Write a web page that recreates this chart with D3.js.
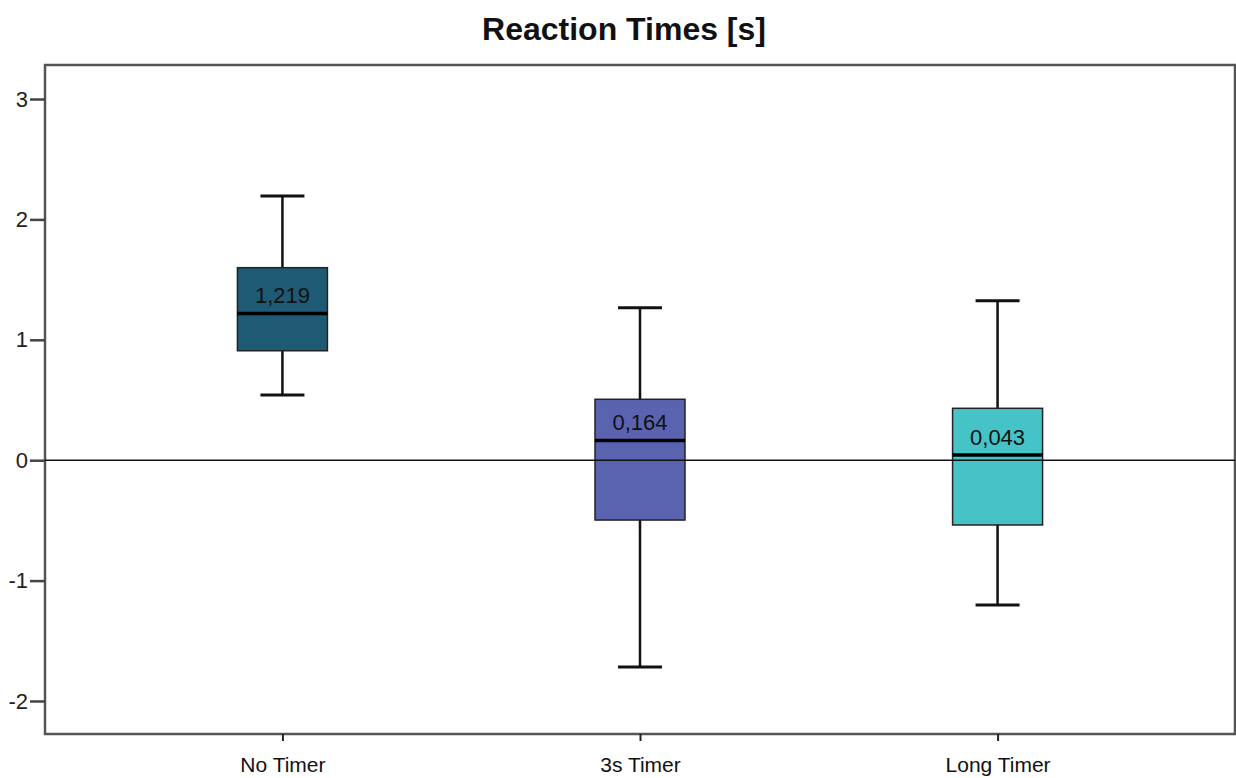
<!DOCTYPE html>
<html>
<head>
<meta charset="utf-8">
<script src="https://cdn.jsdelivr.net/npm/d3@7"></script>
<style>
  body { margin: 0; background: #fff; }
  svg { font-family: "Liberation Sans", Arial, sans-serif; }
</style>
</head>
<body>
<div id="canvas"></div>
<script>
// daten
let groups = ['No Timer', '3s Timer', 'Long Timer']
let whiskerLow = [0.541, -1.718, -1.203]
let q1 = [0.909, -0.497, -0.538]
let median = [1.219, 0.164, 0.043]
let q3 = [1.599, 0.506, 0.431]
let whiskerHigh = [2.194, 1.267, 1.325]
let medianLabels = ['1,219', '0,164', '0,043']
let colors = ['#1f5a74', '#5a63b0', '#46c3c6']
let yTicks = [-2, -1, 0, 1, 2, 3]

let width = 1236, height = 778
let plotLeft = 45, plotRight = 1235, plotTop = 65, plotBottom = 734

let svg = d3.select('#canvas').append('svg')
    .attr('width', width)
    .attr('height', height)

let xScale = d3.scalePoint()
    .domain(groups)
    .range([plotLeft, plotRight])
    .padding(0.664)

let yScale = d3.scaleLinear()
    .domain([-2, 3])
    .range([701, 99])

let boxW = 90, capW = 44

// titel
svg.append('text')
    .attr('x', 624).attr('y', 40)
    .attr('text-anchor', 'middle')
    .style('font-size', '32px')
    .style('font-weight', 'bold')
    .style('fill', '#111')
    .text('Reaction Times [s]')

// rahmen
svg.append('rect')
    .attr('x', plotLeft).attr('y', plotTop)
    .attr('width', plotRight - plotLeft).attr('height', plotBottom - plotTop)
    .style('fill', 'none')
    .style('stroke', '#555')
    .style('stroke-width', 2.5)

// achsen
let yAxis = d3.axisLeft(yScale).tickValues(yTicks).tickSize(15).tickPadding(2)
    .tickFormat(d => String(d))
let yg = svg.append('g').attr('transform', `translate(${plotLeft}, 0)`).call(yAxis)
yg.select('.domain').remove()
yg.selectAll('line').style('stroke', '#444').style('stroke-width', 2.5)
yg.selectAll('text').style('font-size', '22px').style('fill', '#222')
    .style('font-family', '"Liberation Sans", Arial, sans-serif')

let xAxis = d3.axisBottom(xScale).tickSize(7).tickPadding(16)
let xg = svg.append('g').attr('transform', `translate(0, ${plotBottom})`).call(xAxis)
xg.select('.domain').remove()
xg.selectAll('line').style('stroke', '#222').style('stroke-width', 2)
xg.selectAll('text').style('font-size', '21px').style('fill', '#111')
    .style('font-family', '"Liberation Sans", Arial, sans-serif')

let g = svg.selectAll('.box')
    .data(groups)
    .enter()
    .append('g')
    .attr('class', 'box')

// whisker
g.append('line')
    .attr('x1', d => xScale(d)).attr('x2', d => xScale(d))
    .attr('y1', (d, i) => yScale(whiskerHigh[i]))
    .attr('y2', (d, i) => yScale(whiskerLow[i]))
    .style('stroke', '#111').style('stroke-width', 2.5)

g.append('line')
    .attr('x1', d => xScale(d) - capW / 2).attr('x2', d => xScale(d) + capW / 2)
    .attr('y1', (d, i) => yScale(whiskerHigh[i]))
    .attr('y2', (d, i) => yScale(whiskerHigh[i]))
    .style('stroke', '#111').style('stroke-width', 3)

g.append('line')
    .attr('x1', d => xScale(d) - capW / 2).attr('x2', d => xScale(d) + capW / 2)
    .attr('y1', (d, i) => yScale(whiskerLow[i]))
    .attr('y2', (d, i) => yScale(whiskerLow[i]))
    .style('stroke', '#111').style('stroke-width', 3)

// box
g.append('rect')
    .attr('x', d => xScale(d) - boxW / 2)
    .attr('y', (d, i) => yScale(q3[i]))
    .attr('width', boxW)
    .attr('height', (d, i) => yScale(q1[i]) - yScale(q3[i]))
    .style('fill', (d, i) => colors[i])
    .style('stroke', '#222').style('stroke-width', 1.5)

// nulllinie (über den boxen)
svg.append('line')
    .attr('x1', plotLeft).attr('x2', plotRight)
    .attr('y1', yScale(0)).attr('y2', yScale(0))
    .style('stroke', '#111').style('stroke-width', 1.5)

// median
g.append('line')
    .attr('x1', d => xScale(d) - boxW / 2).attr('x2', d => xScale(d) + boxW / 2)
    .attr('y1', (d, i) => yScale(median[i]))
    .attr('y2', (d, i) => yScale(median[i]))
    .style('stroke', '#000').style('stroke-width', 3.5)

g.append('text')
    .attr('x', d => xScale(d))
    .attr('y', (d, i) => yScale(median[i]) - 10)
    .attr('text-anchor', 'middle')
    .style('font-size', '22px')
    .style('fill', '#111')
    .text((d, i) => medianLabels[i])
</script>
</body>
</html>
